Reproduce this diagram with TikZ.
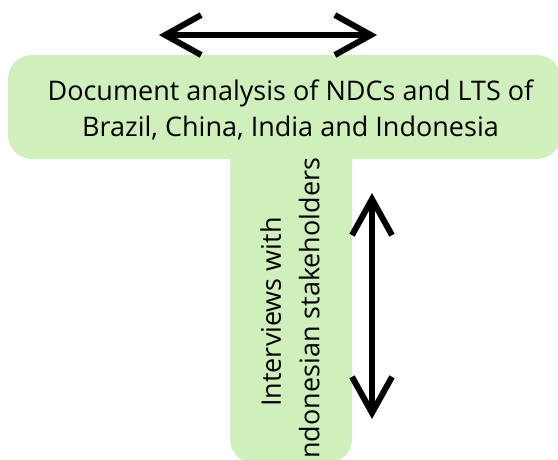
\documentclass[tikz,border=0pt]{standalone}
\usepackage{fontspec}
\setmainfont{Open Sans}
\usetikzlibrary{arrows.meta}
\definecolor{methodgreen}{RGB}{207,240,188}
\tikzset{
  methodfill/.style={fill=methodgreen,rounded corners=24pt},
  methodtext/.style={inner sep=0pt,align=center,font=\fontsize{27}{36}\selectfont},
  methodarrow/.style={{Straight Barb[length=36pt,width=40pt]}-{Straight Barb[length=36pt,width=40pt]},line width=6pt,line cap=round,line join=round}
}

\begin{document}
\begin{tikzpicture}[x=1pt,y=-1pt]
  \useasboundingbox (0,0) rectangle (558,459);
  \clip (0,0) rectangle (558,459);
  % the T shape
  \path[methodfill] (8,55) rectangle (561,159);
  \path[methodfill] (230,140) rectangle (352,463);
  \node[methodtext] (docs) at (290.5,110) {Document analysis of NDCs and LTS of\\Brazil, China, India and Indonesia};
  \node[methodtext,rotate=90,font=\fontsize{27}{38.5}\selectfont] (interviews) at (290,312) {Interviews with\\Indonesian stakeholders};
  % arrows
  \coordinate (topleft) at (159,35);
  \coordinate (topright) at (377,35);
  \coordinate (sideup) at (372,193);
  \coordinate (sidedown) at (372,419);
  \draw[methodarrow] (topleft) -- (topright);
  \draw[methodarrow] (sideup) -- (sidedown);
\end{tikzpicture}
\end{document}
